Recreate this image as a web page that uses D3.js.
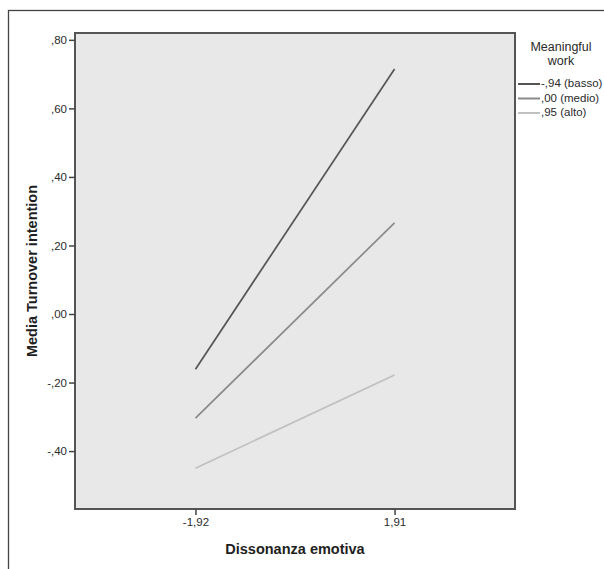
<!DOCTYPE html>
<html>
<head>
<meta charset="utf-8">
<script src="https://cdn.jsdelivr.net/npm/d3@7"></script>
<style>
  body { margin: 0; background: #fff; }
  svg { display: block; font-family: Arial, "Liberation Sans", sans-serif; }
</style>
</head>
<body>
<svg id="chart" width="604" height="569"></svg>
<script>
var xCategories = ["-1,92", "1,91"];
var seriesNames = ["-,94 (basso)", ",00 (medio)", ",95 (alto)"];
var seriesColors = ["#555555", "#8a8a8a", "#c0c0c0"];
var bassoValues = [-0.161, 0.715];
var medioValues = [-0.304, 0.266];
var altoValues = [-0.450, -0.178];
var yTicks = [0.8, 0.6, 0.4, 0.2, 0.0, -0.2, -0.4];

var series = [bassoValues, medioValues, altoValues];

var svg = d3.select("#chart");
var plot = { left: 75, top: 33, right: 515, bottom: 509 };

// outer frame (SPSS output border)
svg.append("rect")
    .attr("x", 8.5).attr("y", 10.5)
    .attr("width", 620).attr("height", 600)
    .attr("fill", "none")
    .attr("stroke", "#444")
    .attr("stroke-width", 1.3);

var x = d3.scalePoint()
    .domain(xCategories)
    .range([plot.left, plot.right])
    .padding(0.605);

var y = d3.scaleLinear()
    .domain([-0.569, 0.82])
    .range([plot.bottom, plot.top]);

svg.append("rect")
    .attr("x", plot.left).attr("y", plot.top)
    .attr("width", plot.right - plot.left)
    .attr("height", plot.bottom - plot.top)
    .attr("fill", "#e8e8e8")
    .attr("stroke", "#555")
    .attr("stroke-width", 2);

function fmt(v) {
    var s = d3.format(".2f")(Math.abs(v)).replace(/^0/, "").replace(".", ",");
    return (v < -1e-9 ? "-" : "") + s;
}

var yAxis = svg.append("g")
    .attr("transform", "translate(" + plot.left + ",0)")
    .call(d3.axisLeft(y).tickValues(yTicks).tickFormat(fmt).tickSize(6).tickPadding(2));
yAxis.select(".domain").remove();

var xAxis = svg.append("g")
    .attr("transform", "translate(0," + plot.bottom + ")")
    .call(d3.axisBottom(x).tickSize(6).tickPadding(3));
xAxis.select(".domain").remove();

svg.selectAll(".tick text").attr("font-size", 11.5).attr("fill", "#2a2a2a").attr("font-family", "Arial, 'Liberation Sans', sans-serif");
svg.selectAll(".tick line").attr("stroke", "#444").attr("stroke-width", 1.5);

var line = d3.line()
    .x(function(d, i) { return x(xCategories[i]); })
    .y(function(d) { return y(d); });

svg.append("g").selectAll("path")
    .data(series)
    .join("path")
    .attr("d", line)
    .attr("fill", "none")
    .attr("stroke", function(d, i) { return seriesColors[i]; })
    .attr("stroke-width", 1.7);

// axis titles
svg.append("text")
    .attr("transform", "translate(33," + ((plot.top + plot.bottom) / 2) + ") rotate(-90)")
    .attr("text-anchor", "middle")
    .attr("dominant-baseline", "middle")
    .attr("font-size", 14.5)
    .attr("font-weight", "bold")
    .attr("fill", "#1e1e1e")
    .text("Media Turnover intention");

svg.append("text")
    .attr("x", (plot.left + plot.right) / 2)
    .attr("y", 554)
    .attr("text-anchor", "middle")
    .attr("font-size", 14.5)
    .attr("font-weight", "bold")
    .attr("fill", "#1e1e1e")
    .text("Dissonanza emotiva");

// legend
var legend = svg.append("g");
legend.append("text")
    .attr("x", 561).attr("y", 51)
    .attr("text-anchor", "middle")
    .attr("font-size", 12.5)
    .attr("fill", "#2a2a2a")
    .text("Meaningful");
legend.append("text")
    .attr("x", 561).attr("y", 65)
    .attr("text-anchor", "middle")
    .attr("font-size", 12.5)
    .attr("fill", "#2a2a2a")
    .text("work");

var items = legend.selectAll("g.item")
    .data(seriesNames)
    .join("g")
    .attr("class", "item")
    .attr("transform", function(d, i) { return "translate(0," + (84 + i * 14.5) + ")"; });
items.append("line")
    .attr("x1", 518).attr("x2", 540)
    .attr("stroke", function(d, i) { return seriesColors[i]; })
    .attr("stroke-width", 2);
items.append("text")
    .attr("x", 541).attr("y", 0)
    .attr("dominant-baseline", "middle")
    .attr("font-size", 11.5)
    .attr("fill", "#2a2a2a")
    .text(function(d) { return d; });
</script>
</body>
</html>
